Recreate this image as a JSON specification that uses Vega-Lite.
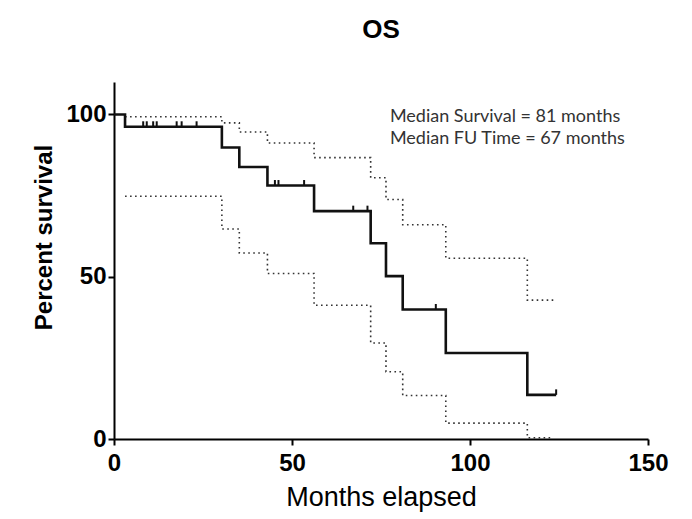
{
  "$schema": "https://vega.github.io/schema/vega-lite/v6.json",
  "autosize": "none",
  "padding": {"left": 114, "top": 82, "right": 44, "bottom": 80},
  "width": 534,
  "height": 357,
  "background": "white",
  "title": {"text": "OS", "font": "Liberation Sans", "fontSize": 26, "fontWeight": "bold", "color": "#000", "anchor": "middle", "baseline": "alphabetic", "offset": 18},
  "config": {
    "view": {"stroke": null},
    "axis": {"grid": false, "domainColor": "#000", "domainWidth": 2, "tickColor": "#000", "tickWidth": 2, "tickSize": 6, "labelFont": "Liberation Sans", "labelFontWeight": "bold", "labelFontSize": 24, "labelColor": "#000", "labelFlush": false, "titleFont": "Liberation Sans", "titleColor": "#000"}
  },
  "datasets": {
    "km": [
      {"series": "Survival", "month": 0, "pct": 100},
      {"series": "Survival", "month": 3.1, "pct": 96.2},
      {"series": "Survival", "month": 30.3, "pct": 89.8},
      {"series": "Survival", "month": 35.2, "pct": 83.8},
      {"series": "Survival", "month": 43.1, "pct": 78.1},
      {"series": "Survival", "month": 56.2, "pct": 70.2},
      {"series": "Survival", "month": 72.1, "pct": 60.3},
      {"series": "Survival", "month": 76.4, "pct": 50.2},
      {"series": "Survival", "month": 81.1, "pct": 39.9},
      {"series": "Survival", "month": 93.2, "pct": 26.5},
      {"series": "Survival", "month": 116.1, "pct": 13.6},
      {"series": "Survival", "month": 124.2, "pct": 13.6},
      {"series": "Upper 95% CI", "month": 3.1, "pct": 99.3},
      {"series": "Upper 95% CI", "month": 30.3, "pct": 97.4},
      {"series": "Upper 95% CI", "month": 35.2, "pct": 94.6},
      {"series": "Upper 95% CI", "month": 43.1, "pct": 91.2},
      {"series": "Upper 95% CI", "month": 56.2, "pct": 86.7},
      {"series": "Upper 95% CI", "month": 72.1, "pct": 80.5},
      {"series": "Upper 95% CI", "month": 76.4, "pct": 73.8},
      {"series": "Upper 95% CI", "month": 81.1, "pct": 66.0},
      {"series": "Upper 95% CI", "month": 93.2, "pct": 55.7},
      {"series": "Upper 95% CI", "month": 116.1, "pct": 42.8},
      {"series": "Upper 95% CI", "month": 123.4, "pct": 42.8},
      {"series": "Lower 95% CI", "month": 3.1, "pct": 74.8},
      {"series": "Lower 95% CI", "month": 30.3, "pct": 64.7},
      {"series": "Lower 95% CI", "month": 35.2, "pct": 57.3},
      {"series": "Lower 95% CI", "month": 43.1, "pct": 51.0},
      {"series": "Lower 95% CI", "month": 56.2, "pct": 41.2},
      {"series": "Lower 95% CI", "month": 72.1, "pct": 29.6},
      {"series": "Lower 95% CI", "month": 76.4, "pct": 20.7},
      {"series": "Lower 95% CI", "month": 81.1, "pct": 13.4},
      {"series": "Lower 95% CI", "month": 93.2, "pct": 4.9},
      {"series": "Lower 95% CI", "month": 116.1, "pct": 0.4},
      {"series": "Lower 95% CI", "month": 123.4, "pct": 0.4}
    ],
    "censored": [
      {"month": 8.2, "pct": 96.2},
      {"month": 9.2, "pct": 96.2},
      {"month": 11.0, "pct": 96.2},
      {"month": 12.0, "pct": 96.2},
      {"month": 17.6, "pct": 96.2},
      {"month": 19.0, "pct": 96.2},
      {"month": 23.2, "pct": 96.2},
      {"month": 45.2, "pct": 78.1},
      {"month": 46.2, "pct": 78.1},
      {"month": 53.4, "pct": 78.1},
      {"month": 67.2, "pct": 70.2},
      {"month": 71.2, "pct": 70.2},
      {"month": 90.4, "pct": 39.9},
      {"month": 124.2, "pct": 13.6}
    ],
    "notes": [
      {"label": "Median Survival = 81 months\nMedian FU Time = 67 months"}
    ]
  },
  "layer": [
    {
      "data": {"name": "km"},
      "transform": [{"filter": "datum.series !== 'Survival'"}],
      "mark": {"type": "line", "interpolate": "step-after", "stroke": "#333", "strokeWidth": 1.6, "strokeDash": [1.6, 3.4]},
      "encoding": {
        "x": {"field": "month", "type": "quantitative", "scale": {"domain": [0, 150], "nice": false}, "axis": {"values": [0, 50, 100, 150], "title": "Months elapsed", "titleFontSize": 27, "titleFontWeight": "normal", "labelPadding": 6, "titlePadding": 9}},
        "y": {"field": "pct", "type": "quantitative", "scale": {"domain": [0, 110], "nice": false}, "axis": {"values": [0, 50, 100], "title": "Percent survival", "titleFontSize": 24, "titleFontWeight": "bold", "labelPadding": 2, "titleX": -70, "titleY": 155, "titleBaseline": "middle"}},
        "detail": {"field": "series"}
      }
    },
    {
      "data": {"name": "km"},
      "transform": [{"filter": "datum.series === 'Survival'"}],
      "mark": {"type": "line", "interpolate": "step-after", "stroke": "#111", "strokeWidth": 2.6},
      "encoding": {
        "x": {"field": "month", "type": "quantitative"},
        "y": {"field": "pct", "type": "quantitative"}
      }
    },
    {
      "data": {"name": "censored"},
      "mark": {"type": "point", "shape": "M0,-1L0,0", "size": 121, "filled": false, "stroke": "#111", "strokeWidth": 2, "opacity": 1},
      "encoding": {
        "x": {"field": "month", "type": "quantitative"},
        "y": {"field": "pct", "type": "quantitative"}
      }
    },
    {
      "data": {"name": "notes"},
      "mark": {"type": "text", "align": "left", "baseline": "middle", "lineBreak": "\n", "lineHeight": 22.5, "font": "Lato", "fontSize": 18, "color": "#333"},
      "encoding": {
        "x": {"datum": 77.5, "type": "quantitative"},
        "y": {"datum": 99.3, "type": "quantitative"},
        "text": {"field": "label"}
      }
    }
  ]
}
